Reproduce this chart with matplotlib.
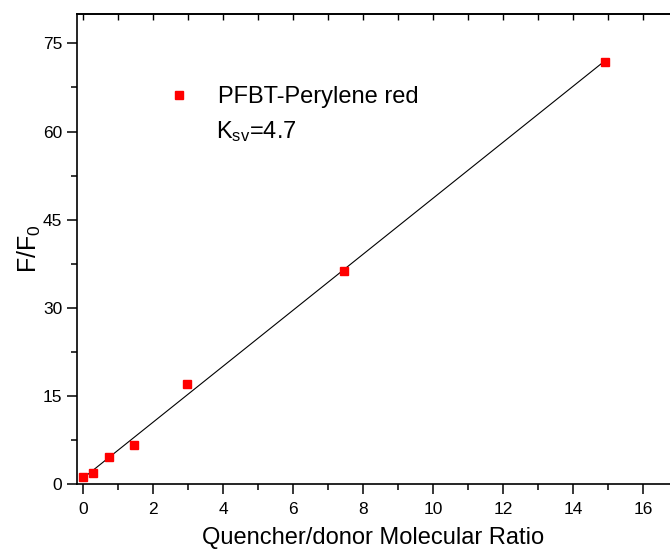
import numpy as np
import matplotlib.pyplot as plt
from matplotlib.ticker import MultipleLocator

# data
ratio = [0.0, 0.28, 0.74, 1.47, 2.98, 7.45, 14.9]
f_f0 = [1.2, 1.9, 4.6, 6.6, 17.0, 36.2, 71.9]
series_name = 'PFBT-Perylene red'
ksv_label = 'K$_{\\mathrm{sv}}$=4.7'

plt.rcParams['font.family'] = ['Liberation Sans', 'DejaVu Sans']
plt.rcParams['mathtext.fontset'] = 'custom'
plt.rcParams['mathtext.rm'] = 'Liberation Sans'
plt.rcParams['mathtext.it'] = 'Liberation Sans'


def main():
    fig = plt.figure(figsize=(6.7, 5.52), dpi=100)
    ax = fig.add_axes([77 / 670, 68 / 552, 593 / 670, 470 / 552])

    x = np.asarray(ratio)
    y = np.asarray(f_f0)
    slope, icept = np.polyfit(x, y, 1)
    xf = np.array([x.min(), x.max()])
    ax.plot(xf, slope * xf + icept, color='black', lw=0.8, zorder=2)
    ax.plot(x, y, 's', color='#ff0000', ms=5.5, mec='#ff0000', zorder=3,
            label=series_name)

    ax.set_xlim(-0.17, 16.77)
    ax.set_ylim(0, 80)
    ax.xaxis.set_major_locator(MultipleLocator(2))
    ax.xaxis.set_minor_locator(MultipleLocator(1))
    ax.yaxis.set_major_locator(MultipleLocator(15))
    ax.yaxis.set_minor_locator(MultipleLocator(7.5))
    ax.tick_params(which='major', direction='out', length=7, width=1.1,
                   labelsize=12.5)
    ax.tick_params(axis='x', which='major', pad=6)
    ax.tick_params(which='minor', direction='out', length=4, width=1.1)
    ax.spines['right'].set_visible(False)
    for s in ['left', 'bottom', 'top']:
        ax.spines[s].set_linewidth(1.2)

    top = ax.secondary_xaxis('top')
    top.xaxis.set_major_locator(MultipleLocator(2))
    top.xaxis.set_minor_locator(MultipleLocator(1))
    top.tick_params(which='both', direction='in', length=4, width=1,
                    labeltop=False)
    top.spines['top'].set_linewidth(1.2)

    ax.set_xlabel('Quencher/donor Molecular Ratio', fontsize=17, labelpad=7)
    ax.set_ylabel('F/F$_{\\mathrm{0}}$', fontsize=18, labelpad=0)

    ax.legend(loc='center left', bbox_to_anchor=(0.137, 0.823), frameon=False,
              fontsize=17, handlelength=1.0, handletextpad=1.15,
              borderaxespad=0)
    ax.text(0.234, 0.749, ksv_label, transform=ax.transAxes, fontsize=17,
            va='center', ha='left')

    fig.savefig('out.png', dpi=100)


if __name__ == "__main__":
    main()
